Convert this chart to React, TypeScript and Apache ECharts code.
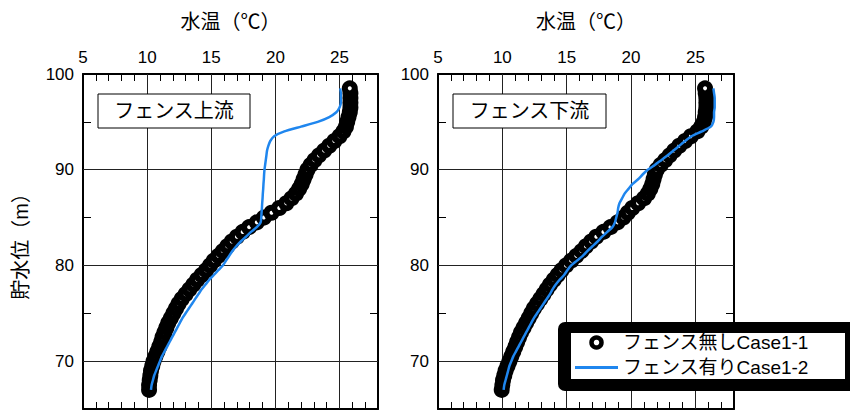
import { useEffect, useRef } from 'react';
import * as echarts from 'echarts';

// Reservoir elevation (m) at which each temperature was sampled
const depthLevels = [
  67.0, 67.5, 68.0, 68.5, 69.0, 69.5, 70.0, 70.5, 71.0, 71.5,
  72.0, 72.5, 73.0, 73.5, 74.0, 74.5, 75.0, 75.5, 76.0, 76.5,
  77.0, 77.5, 78.0, 78.5, 79.0, 79.5, 80.0, 80.5, 81.0, 81.5,
  82.0, 82.5, 83.0, 83.5, 84.0, 84.5, 85.0, 85.5, 86.0, 86.5,
  87.0, 87.5, 88.0, 88.5, 89.0, 89.5, 90.0, 90.5, 91.0, 91.5,
  92.0, 92.5, 93.0, 93.5, 94.0, 94.5, 95.0, 95.5, 96.0, 96.5,
  97.0, 97.5, 98.0, 98.5,
];

// Water temperature (°C), upstream of the fence, without fence (Case1-1)
const upstreamNoFence = [
  10.15, 10.15, 10.2, 10.25, 10.3, 10.4, 10.5, 10.65, 10.8, 10.95,
  11.1, 11.2, 11.35, 11.5, 11.65, 11.85, 12.05, 12.25, 12.45, 12.7,
  13.0, 13.3, 13.6, 13.9, 14.25, 14.6, 14.9, 15.2, 15.55, 15.9,
  16.25, 16.6, 17.0, 17.45, 17.95, 18.55, 19.1, 19.7, 20.3, 20.85,
  21.25, 21.6, 21.85, 22.05, 22.2, 22.35, 22.5, 22.75, 23.05, 23.4,
  23.8, 24.2, 24.6, 25.0, 25.3, 25.5, 25.6, 25.7, 25.8, 25.85,
  25.85, 25.85, 25.85, 25.8,
];

// Water temperature (°C), upstream of the fence, with fence (Case1-2)
const upstreamFence = [
  10.3, 10.35, 10.45, 10.55, 10.7, 10.85, 11.0, 11.15, 11.35, 11.55,
  11.75, 11.95, 12.15, 12.35, 12.55, 12.75, 13.0, 13.25, 13.5, 13.75,
  14.0, 14.25, 14.55, 14.85, 15.2, 15.55, 15.9, 16.15, 16.4, 16.65,
  16.95, 17.3, 17.7, 18.1, 18.55, 18.85, 18.9, 18.92, 18.95, 18.97,
  19.0, 19.02, 19.05, 19.07, 19.1, 19.12, 19.15, 19.2, 19.25, 19.3,
  19.35, 19.45, 19.6, 19.9, 20.7, 22.0, 23.3, 24.2, 24.75, 25.0,
  25.1, 25.1, 25.1, 25.05,
];

// Water temperature (°C), downstream of the fence, without fence (Case1-1)
const downstreamNoFence = [
  9.95, 10.0, 10.05, 10.15, 10.25, 10.4, 10.55, 10.7, 10.85, 11.0,
  11.15, 11.3, 11.45, 11.65, 11.85, 12.05, 12.25, 12.45, 12.7, 12.95,
  13.2, 13.45, 13.7, 14.0, 14.3, 14.6, 14.95, 15.35, 15.75, 16.15,
  16.5, 16.9, 17.3, 17.85, 18.4, 18.95, 19.4, 19.75, 20.1, 20.55,
  21.0, 21.3, 21.5, 21.65, 21.75, 21.85, 22.0, 22.3, 22.65, 23.0,
  23.35, 23.75, 24.2, 24.65, 25.15, 25.45, 25.65, 25.75, 25.8, 25.85,
  25.85, 25.85, 25.8, 25.75,
];

// Water temperature (°C), downstream of the fence, with fence (Case1-2)
const downstreamFence = [
  10.1, 10.15, 10.25, 10.35, 10.45, 10.55, 10.7, 10.85, 11.05, 11.25,
  11.45, 11.65, 11.85, 12.05, 12.25, 12.45, 12.7, 12.95, 13.2, 13.45,
  13.7, 13.9, 14.15, 14.45, 14.8, 15.05, 15.35, 15.8, 16.25, 16.6,
  17.0, 17.4, 17.75, 18.15, 18.55, 18.75, 18.85, 18.95, 19.0, 19.1,
  19.3, 19.5, 19.8, 20.1, 20.55, 20.9, 21.3, 21.85, 22.35, 22.85,
  23.3, 23.75, 24.2, 24.7, 25.5, 26.2, 26.4, 26.45, 26.45, 26.5,
  26.5, 26.5, 26.45, 26.4,
];

// Axis ranges and reference grid lines
const tempRange = [5, 28];
const levelRange = [65, 100];
const tempGridLines = [10, 15, 20, 25];
const levelGridLines = [70, 80, 90];

const panelTitles = ['フェンス上流', 'フェンス下流'];
const seriesNoFence = 'フェンス無しCase1-1';
const seriesFence = 'フェンス有りCase1-2';

const FONT = "'Liberation Sans', 'Noto Sans CJK JP', sans-serif";
const BLUE = '#1f86ee';

const pairs = (temps: number[]) => temps.map((t, i) => [t, depthLevels[i]]);

export default function App() {
  const ref = useRef<HTMLDivElement>(null);

  useEffect(() => {
    if (!ref.current) return;
    const chart = echarts.init(ref.current, null, { renderer: 'svg' });

    const grids = [
      { left: 83, top: 74, width: 295, height: 335 },
      { left: 438, top: 74, width: 296, height: 335 },
    ];

    const xAxes: any[] = [];
    const yAxes: any[] = [];
    grids.forEach((_, gi) => {
      const base = {
        type: 'value',
        gridIndex: gi,
        min: tempRange[0],
        max: tempRange[1],
        interval: 1,
        axisLine: { show: true, onZero: false, lineStyle: { color: '#000', width: 2 } },
        axisTick: { show: true, inside: true, length: 7, lineStyle: { color: '#000', width: 1 } },
        splitLine: { show: false },
      };
      xAxes.push({
        ...base,
        position: 'top',
        name: '水温（℃）',
        nameLocation: 'middle',
        nameGap: 42,
        nameTextStyle: { fontSize: 20, color: '#000', fontFamily: FONT },
        axisLabel: {
          show: true,
          margin: 8,
          fontSize: 17,
          color: '#000',
          fontFamily: FONT,
          formatter: (v: number) => (v % 5 === 0 && v < tempRange[1] ? String(v) : ''),
        },
      });
      xAxes.push({ ...base, position: 'bottom', axisLabel: { show: false } });

      const ybase = {
        type: 'value',
        gridIndex: gi,
        min: levelRange[0],
        max: levelRange[1],
        interval: 5,
        axisLine: { show: true, onZero: false, lineStyle: { color: '#000', width: 2 } },
        axisTick: { show: true, inside: true, length: 8, lineStyle: { color: '#000', width: 1 } },
        splitLine: { show: false },
      };
      yAxes.push({
        ...ybase,
        position: 'left',
        name: gi === 0 ? '貯水位（m）' : '',
        nameLocation: 'middle',
        nameGap: 52,
        nameTextStyle: { fontSize: 20, color: '#000', fontFamily: FONT },
        axisLabel: {
          show: true,
          margin: 9,
          fontSize: 17,
          color: '#000',
          fontFamily: FONT,
          formatter: (v: number) => (v % 10 === 0 ? String(v) : ''),
        },
      });
      yAxes.push({ ...ybase, position: 'right', axisLabel: { show: false } });
    });

    const gridMarkLine = {
      silent: true,
      symbol: ['none', 'none'],
      z: 1,
      label: { show: false },
      lineStyle: { color: '#222', width: 1, type: 'solid' },
      emphasis: { disabled: true },
      data: [
        ...tempGridLines.map((v) => ({ xAxis: v })),
        ...levelGridLines.map((v) => ({ yAxis: v })),
      ],
    };

    const profiles = [
      { noFence: upstreamNoFence, fence: upstreamFence },
      { noFence: downstreamNoFence, fence: downstreamFence },
    ];

    const series: any[] = [];
    profiles.forEach((p, gi) => {
      series.push({
        type: 'scatter',
        name: seriesNoFence,
        xAxisIndex: gi * 2,
        yAxisIndex: gi * 2,
        data: pairs(p.noFence),
        symbol: 'circle',
        symbolSize: 10,
        itemStyle: { color: '#fff', borderColor: '#000', borderWidth: 6, opacity: 1 },
        emphasis: { disabled: true },
        silent: true,
        markLine: gridMarkLine,
        z: 2,
      });
      series.push({
        type: 'line',
        name: seriesFence,
        xAxisIndex: gi * 2,
        yAxisIndex: gi * 2,
        data: pairs(p.fence),
        symbol: 'none',
        showSymbol: false,
        smooth: 0.2,
        lineStyle: { color: BLUE, width: 2.5 },
        itemStyle: { color: BLUE },
        emphasis: { disabled: true },
        silent: true,
        z: 3,
      });
    });

    const titleBox = (x: number, w: number, text: string) => ({
      type: 'group',
      z: 50,
      children: [
        {
          type: 'rect',
          z: 50,
          shape: { x, y: 94, width: w, height: 34 },
          style: { fill: '#fff', stroke: '#000', lineWidth: 1 },
        },
        {
          type: 'text',
          z: 51,
          x: x + w / 2,
          y: 111,
          style: {
            text,
            fill: '#000',
            font: `20px ${FONT}`,
            align: 'center',
            verticalAlign: 'middle',
          },
        },
      ],
    });

    chart.setOption({
      animation: false,
      backgroundColor: '#fff',
      textStyle: { fontFamily: FONT },
      grid: grids,
      xAxis: xAxes,
      yAxis: yAxes,
      series,
      legend: {
        orient: 'vertical',
        left: 575,
        top: 333,
        padding: 0,
        itemWidth: 43,
        itemHeight: 10,
        itemGap: 6,
        selectedMode: false,
        z: 60,
        textStyle: { fontSize: 19, color: '#000', fontFamily: FONT, lineHeight: 19 },
        data: [
          {
            name: seriesNoFence,
            icon: 'circle',
            itemStyle: { color: '#fff', borderColor: '#000', borderWidth: 4.5 },
          },
          {
            name: seriesFence,
            icon: 'path://M0 0H43V3H0Z',
            itemStyle: { color: BLUE, borderWidth: 0 },
          },
        ],
      },
      graphic: [
        titleBox(98, 152, panelTitles[0]),
        titleBox(453, 153, panelTitles[1]),
        {
          type: 'rect',
          z: 55,
          shape: { x: 558, y: 322, width: 300, height: 69, r: 7 },
          style: { fill: '#000' },
        },
        {
          type: 'rect',
          z: 56,
          shape: { x: 571, y: 333, width: 274, height: 46 },
          style: { fill: '#fff' },
        },
      ],
    });

    return () => chart.dispose();
  }, []);

  return (
    <div
      ref={ref}
      style={{ position: 'absolute', left: 0, top: 0, width: 850, height: 411, background: '#fff' }}
    />
  );
}
